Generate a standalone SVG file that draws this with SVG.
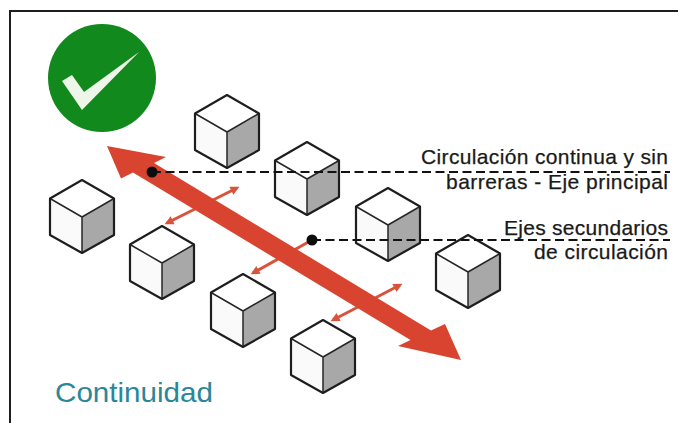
<svg xmlns="http://www.w3.org/2000/svg" xmlns:xlink="http://www.w3.org/1999/xlink" width="678" height="423" viewBox="0 0 678 423">
  <defs>
    <style>
      .frame{fill:none;stroke:#1e1e1e;stroke-width:2}
      .face-top{fill:#ffffff}
      .face-left{fill:#fafafa}
      .face-right{fill:#a8a8a8}
      .outline{fill:none;stroke:#1e1e1e;stroke-width:2.2;stroke-linejoin:round}
      .edge{fill:none;stroke:#262626;stroke-width:1.5;stroke-linejoin:round}
      .lbl{font-family:"Liberation Sans",Arial,Helvetica,sans-serif;font-size:21px;fill:#1a1a1a;stroke:#1a1a1a;stroke-width:0.25;text-anchor:end}
      .title{font-family:"Liberation Sans",Arial,Helvetica,sans-serif;font-size:28px;fill:#2a8799}
      .lead{fill:none;stroke:#111111;stroke-width:2;stroke-dasharray:9 4.5}
      .dot{fill:#0d0d0d}
      .main{fill:#d8442f}
      .sec{fill:none;stroke:#d9533c;stroke-width:3}
    </style>
    <!-- isometric block, top vertex at the origin -->
    <g id="cube">
      <polygon class="face-top" points="0,0 32,18.5 0,37 -32,18.5"/>
      <polygon class="face-left" points="-32,18.5 0,37 0,73 -32,55"/>
      <polygon class="face-right" points="0,37 32,18.5 32,55 0,73"/>
      <path class="edge" d="M-32,18.5 L0,37 L32,18.5 M0,37 L0,73"/>
      <path class="outline" d="M0,0 L32,18.5 L32,55 L0,73 L-32,55 L-32,18.5 Z"/>
    </g>
    <marker id="head" viewBox="0 0 10 10" refX="7" refY="5" markerWidth="3.2" markerHeight="3" orient="auto-start-reverse">
      <path d="M0,0 L10,5 L0,10 Z" fill="#d9533c"/>
    </marker>
  </defs>

  <rect width="678" height="423" fill="#ffffff"/>

  <!-- outer frame (open to the right and bottom) -->
  <path class="frame" d="M10,423 V11 H678"/>

  <!-- approval badge -->
  <g id="badge">
    <circle cx="102" cy="78" r="54" fill="#12891c"/>
    <polygon points="62,81 72,75 84,92 139,52 82,110" fill="#eef6ea"/>
  </g>

  <!-- blocks, back row -->
  <g id="block-b1" transform="translate(227,95)"><use xlink:href="#cube" href="#cube"/></g>
  <g id="block-b2" transform="translate(307,142)"><use xlink:href="#cube" href="#cube"/></g>
  <g id="block-b3" transform="translate(388,188)"><use xlink:href="#cube" href="#cube"/></g>
  <g id="block-b4" transform="translate(468,235)"><use xlink:href="#cube" href="#cube"/></g>
  <!-- blocks, front row -->
  <g id="block-f1" transform="translate(82,180)"><use xlink:href="#cube" href="#cube"/></g>
  <g id="block-f2" transform="translate(162,226)"><use xlink:href="#cube" href="#cube"/></g>
  <g id="block-f3" transform="translate(243,274)"><use xlink:href="#cube" href="#cube"/></g>
  <g id="block-f4" transform="translate(323,320)"><use xlink:href="#cube" href="#cube"/></g>

  <g id="connectors">
    <!-- secondary circulation axes -->
    <line class="sec" x1="167" y1="223" x2="237" y2="188" marker-start="url(#head)" marker-end="url(#head)"/>
    <line class="sec" x1="253" y1="273" x2="312" y2="240" marker-start="url(#head)"/>
    <line class="sec" x1="333" y1="320" x2="400" y2="285" marker-start="url(#head)" marker-end="url(#head)"/>
    <!-- main circulation axis, drawn in isometric -->
    <polygon class="main" points="107,146 166,157 154,163 431,330.5 445,324 461,360 398,346 410.5,340 133,172.5 121,178.5"/>
    <!-- label leaders -->
    <path class="lead" d="M152,172 H670"/>
    <path class="lead" d="M312,240 H670"/>
    <circle class="dot" cx="152" cy="172" r="5.5"/>
    <circle class="dot" cx="312" cy="240" r="5.5"/>
  </g>

  <g id="label-main">
    <text class="lbl" x="668" y="164" textLength="247" lengthAdjust="spacing">Circulación continua y sin</text>
    <text class="lbl" x="668" y="189" textLength="222" lengthAdjust="spacing">barreras - Eje principal</text>
  </g>
  <g id="label-secondary">
    <text class="lbl" x="668" y="235" textLength="164" lengthAdjust="spacing">Ejes secundarios</text>
    <text class="lbl" x="668" y="259" textLength="134" lengthAdjust="spacing">de circulación</text>
  </g>
  <g id="title">
    <text class="title" x="55" y="402" textLength="158" lengthAdjust="spacingAndGlyphs">Continuidad</text>
  </g>
</svg>
